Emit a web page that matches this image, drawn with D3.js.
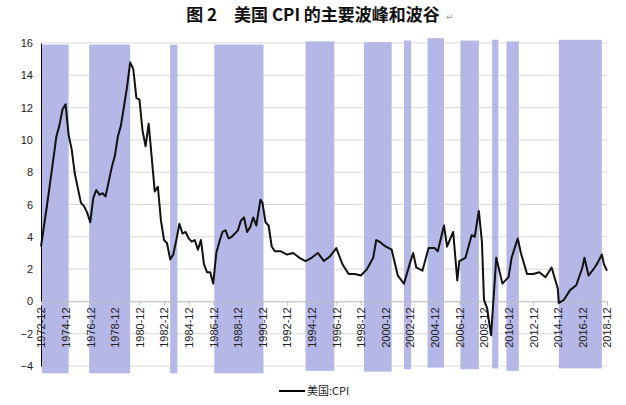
<!DOCTYPE html><html><head><meta charset="utf-8"><script src="https://cdn.jsdelivr.net/npm/d3@7"></script>
<style>body{margin:0;background:#fff}</style></head><body><svg id="c" width="626" height="405"></svg><script>
const yTicks=[16,14,12,10,8,6,4,2,0,-2,-4];
const xTickLabels=d3.range(1972,2019,2).map(y=>y+"-12");
// bands: [start, end, top, bottom]
const bands=[["1973-01","1975-03",15.9,-4.45],["1976-11","1980-03",15.9,-4.45],["1983-06","1984-01",15.9,-4.45],["1987-01","1991-01",15.9,-4.45],["1994-06","1996-10",16.1,-4.3],["1999-03","2001-06",16.05,-4.35],["2002-06","2003-01",16.15,-4.2],["2004-05","2005-09",16.3,-4.1],["2007-01","2008-07",16.15,-4.2],["2009-08","2010-02",16.2,-4.15],["2010-10","2011-10",16.1,-4.3],["2015-01","2018-07",16.2,-4.15]];
const cpiDates=["1972-12","1973-03","1973-06","1973-09","1973-12","1974-03","1974-06","1974-09","1974-12","1975-03","1975-06","1975-09","1975-12","1976-03","1976-06","1976-09","1976-12","1977-03","1977-06","1977-09","1977-12","1978-03","1978-06","1978-09","1978-12","1979-03","1979-06","1979-09","1979-12","1980-03","1980-06","1980-09","1980-12","1981-03","1981-06","1981-09","1981-12","1982-03","1982-06","1982-09","1982-12","1983-03","1983-06","1983-09","1983-12","1984-03","1984-06","1984-09","1984-12","1985-03","1985-06","1985-09","1985-12","1986-03","1986-06","1986-09","1986-12","1987-03","1987-06","1987-09","1987-12","1988-03","1988-06","1988-09","1988-12","1989-03","1989-06","1989-09","1989-12","1990-03","1990-06","1990-10","1990-12","1991-03","1991-06","1991-09","1991-12","1992-06","1992-12","1993-06","1993-12","1994-06","1994-12","1995-06","1995-12","1996-06","1996-12","1997-06","1997-12","1998-06","1998-12","1999-06","1999-12","2000-03","2000-06","2000-12","2001-06","2001-12","2002-06","2002-12","2003-03","2003-06","2003-12","2004-06","2004-12","2005-03","2005-09","2005-12","2006-06","2006-10","2006-12","2007-06","2007-12","2008-03","2008-07","2008-10","2008-12","2009-03","2009-07","2009-12","2010-06","2010-12","2011-03","2011-09","2011-12","2012-06","2012-12","2013-06","2013-12","2014-06","2014-12","2015-01","2015-06","2015-12","2016-06","2016-12","2017-02","2017-06","2017-12","2018-03","2018-07","2018-09","2018-12"];
const cpiValues=[3.4,4.7,6.0,7.4,8.8,10.2,10.9,11.9,12.2,10.3,9.4,7.9,7.0,6.1,5.9,5.5,4.9,6.4,6.9,6.6,6.7,6.5,7.4,8.3,9.0,10.2,10.9,12.1,13.3,14.8,14.4,12.6,12.5,10.6,9.6,11.0,8.9,6.8,7.1,5.0,3.8,3.6,2.6,2.9,3.8,4.8,4.2,4.3,3.9,3.7,3.8,3.2,3.8,2.3,1.8,1.8,1.1,3.0,3.7,4.3,4.4,3.9,4.0,4.2,4.4,5.0,5.2,4.3,4.6,5.2,4.7,6.3,6.1,4.9,4.7,3.4,3.1,3.1,2.9,3.0,2.7,2.5,2.7,3.0,2.5,2.8,3.3,2.3,1.7,1.7,1.6,2.0,2.7,3.8,3.7,3.4,3.2,1.6,1.1,2.4,3.0,2.1,1.9,3.3,3.3,3.1,4.7,3.4,4.3,1.3,2.5,2.7,4.1,4.0,5.6,3.7,0.1,-0.4,-2.1,2.7,1.1,1.5,2.7,3.9,3.0,1.7,1.7,1.8,1.5,2.1,0.8,-0.1,0.1,0.7,1.0,2.1,2.7,1.6,2.1,2.4,2.9,2.3,1.9];
const P=d3.timeParse("%Y-%m");
const svg=d3.select("#c");
const x=d3.scaleTime().domain([P("1972-12"),P("2018-12")]).range([41,607]);
const y=d3.scaleLinear().domain([-4,16]).range([366,43]);
svg.append("text").attr("x",313).attr("y",21).attr("text-anchor","middle").attr("font-family","Noto Sans CJK SC").attr("font-weight","bold").attr("font-size",17).attr("fill","#111").text("图 2　美国 CPI 的主要波峰和波谷");
svg.append("text").attr("x",446).attr("y",20).attr("font-family","DejaVu Sans").attr("font-size",9).attr("fill","#999").text("↵");
svg.selectAll(".g").data(yTicks).join("line").attr("x1",41).attr("x2",607).attr("y1",d=>y(d)).attr("y2",d=>y(d)).attr("stroke","#d9d9d9");
svg.selectAll(".b").data(bands).join("rect").attr("x",d=>x(P(d[0]))).attr("width",d=>x(P(d[1]))-x(P(d[0]))).attr("y",d=>y(d[2])).attr("height",d=>y(d[3])-y(d[2])).attr("fill","#b5b7e7");
const yAx=svg.append("g").attr("transform","translate(41,0)").call(d3.axisLeft(y).tickValues(yTicks).tickSize(0).tickPadding(8));
yAx.select(".domain").attr("stroke","#000");
yAx.selectAll("text").attr("font-family","Liberation Sans").attr("font-size",11).attr("fill","#222");
const xAx=svg.append("g").attr("transform",`translate(0,${y(0)})`).call(d3.axisBottom(x).tickValues(xTickLabels.map(P)).tickSize(4).tickFormat(d3.timeFormat("%Y-%m")));
xAx.select(".domain").attr("stroke","#bfbfbf");xAx.selectAll("line").attr("stroke","#bfbfbf");
xAx.selectAll("text").attr("font-family","Liberation Sans").attr("font-size",11).attr("fill","#222").attr("text-anchor","end").attr("transform","rotate(-90)").attr("x",-6).attr("y",0).attr("dy","0.35em");
const line=d3.line().x((d,i)=>x(P(cpiDates[i]))).y(d=>y(d));
svg.append("path").attr("d",line(cpiValues)).attr("fill","none").attr("stroke","#111").attr("stroke-width",2).attr("stroke-linejoin","round");
svg.append("line").attr("x1",279).attr("x2",305).attr("y1",391).attr("y2",391).attr("stroke","#000").attr("stroke-width",2);
svg.append("text").attr("x",307).attr("y",395).attr("font-family","Noto Sans CJK SC").attr("font-size",11).attr("fill","#222").text("美国:CPI");
</script></body></html>
